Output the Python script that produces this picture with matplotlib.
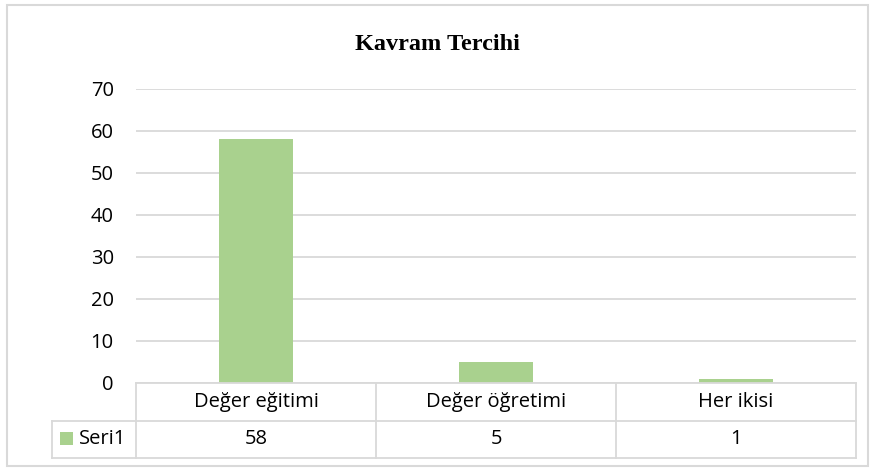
import matplotlib
matplotlib.use("Agg")
from matplotlib import pyplot as plt
from matplotlib.lines import Line2D
from matplotlib.patches import Rectangle

#%% Data
categories = ['Değer eğitimi', 'Değer öğretimi', 'Her ikisi']
values = [58, 5, 1]
series_name = 'Seri1'
title = 'Kavram Tercihi'
yticks = [0, 10, 20, 30, 40, 50, 60, 70]

#%% Style
W, H = 875, 471
BAR_COLOR = '#A9D18E'
GRID_COLOR = '#D9D9D9'
FONT = 'Open Sans'
FS = 14.5

fig = plt.figure(figsize=(W / 100, H / 100), dpi=100)

def fx(px):
    return px / W

def fy(py):
    return 1 - py / H

# outer chart border
fig.add_artist(Rectangle((fx(7), fy(466)), fx(861), fy(5) - fy(466),
                         transform=fig.transFigure, fill=False, edgecolor=GRID_COLOR, lw=1.5))

# plot area
left, right, top, bottom = 136, 856, 89, 383
ax = fig.add_axes([fx(left), fy(bottom), fx(right - left), fy(top) - fy(bottom)])
x = range(len(categories))
ax.bar(x, values, width=0.31, color=BAR_COLOR, zorder=2)
ax.set_xlim(-0.5, len(categories) - 0.5)
ax.set_ylim(0, 70)
ax.set_yticks(yticks)
ax.set_yticklabels([str(t) for t in yticks], fontsize=FS, family=FONT)
ax.tick_params(axis='y', length=0, pad=16)
ax.set_xticks([])
ax.grid(axis='y', color=GRID_COLOR, lw=1.3, zorder=0)
for s in ax.spines.values():
    s.set_visible(False)

fig.text(0.5, fy(45), title, ha='center', va='center', fontsize=17.5,
         fontweight='bold', family='Liberation Serif')

#%% Data table
row1, row2, row3 = 383, 421, 458
key_left = 52
col_edges = [left + (right - left) * i / len(categories) for i in range(len(categories) + 1)]

def hline(x0, x1, y):
    fig.add_artist(Line2D([fx(x0), fx(x1)], [fy(y), fy(y)], color=GRID_COLOR, lw=1.3, transform=fig.transFigure))

def vline(x0, y0, y1):
    fig.add_artist(Line2D([fx(x0), fx(x0)], [fy(y0), fy(y1)], color=GRID_COLOR, lw=1.3, transform=fig.transFigure))

hline(left, right, row1)
hline(key_left, right, row2)
hline(key_left, right, row3)
vline(key_left, row2, row3)
for c in col_edges:
    vline(c, row1, row3)

for i, (cat, val) in enumerate(zip(categories, values)):
    cx = (col_edges[i] + col_edges[i + 1]) / 2
    fig.text(fx(cx), fy((row1 + row2) / 2), cat, ha='center', va='center', fontsize=FS, family=FONT)
    fig.text(fx(cx), fy((row2 + row3) / 2), str(val), ha='center', va='center', fontsize=FS, family=FONT)

# legend key in the table
fig.add_artist(Rectangle((fx(60), fy(445)), fx(13), fy(432) - fy(445), transform=fig.transFigure,
                         facecolor=BAR_COLOR, edgecolor='none'))
fig.text(fx(79), fy((row2 + row3) / 2), series_name, ha='left', va='center', fontsize=FS, family=FONT)

fig.savefig('out.png', dpi=100)
